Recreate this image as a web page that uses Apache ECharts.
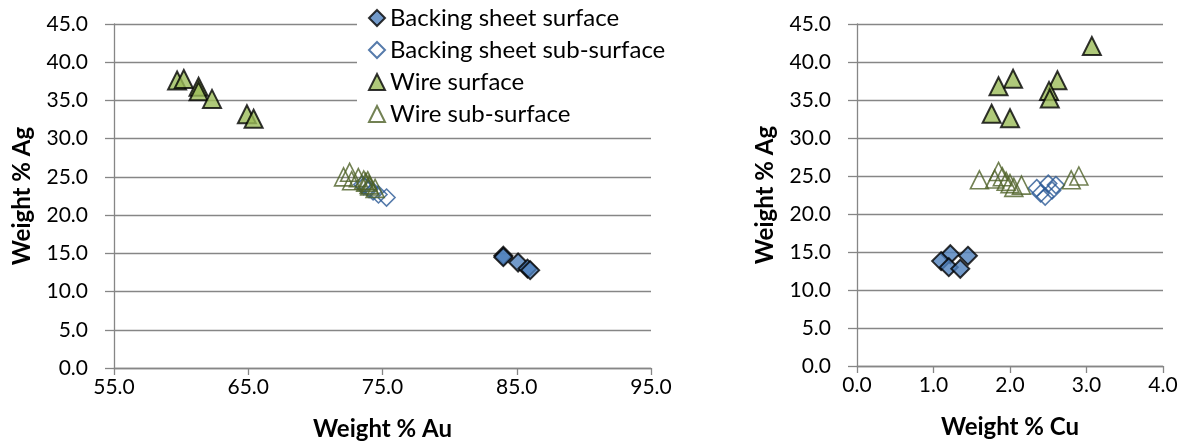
<!DOCTYPE html>
<html><head><meta charset="utf-8">
<script src="https://cdn.jsdelivr.net/npm/echarts@6/dist/echarts.min.js"></script>
<style>html,body{margin:0;padding:0;background:#fff}#c{width:1189px;height:441px}</style>
</head><body><div id="c"></div>
<script>
// Series names
const seriesNames = ['Backing sheet surface', 'Backing sheet sub-surface', 'Wire surface', 'Wire sub-surface'];

// Backing sheet surface
const bsSurfAu = [84.0, 84.0, 85.1, 85.8, 86.0];
const bsSurfAg = [14.7, 14.5, 13.8, 13.0, 12.8];
const bsSurfCu = [1.22, 1.45, 1.10, 1.20, 1.35];

// Backing sheet sub-surface
const bsSubAu = [75.3, 74.7, 74.3, 74.0, 73.6, 73.5];
const bsSubAg = [22.3, 22.7, 23.1, 23.4, 23.8, 24.0];
const bsSubCu = [2.46, 2.40, 2.55, 2.35, 2.60, 2.50];

// Wire surface
const wSurfAu = [54.8, 59.7, 60.2, 61.3, 61.3, 62.3, 64.9, 65.4];
const wSurfAg = [42.1, 37.6, 37.8, 36.8, 36.2, 35.2, 33.2, 32.6];
const wSurfCu = [3.07, 2.62, 2.04, 1.85, 2.51, 2.52, 1.76, 2.00];

// Wire sub-surface
const wSubAu = [73.9, 72.55, 73.2, 73.75, 74.0, 74.05, 72.7, 72.1, 73.6, 74.45];
const wSubAg = [24.5, 25.6, 24.9, 24.3, 24.0, 23.8, 24.5, 25.0, 24.6, 23.5];
const wSubCu = [1.60, 1.85, 1.90, 1.95, 2.00, 2.15, 2.80, 2.90, 1.80, 2.05];

// Axis ticks
const auTicks = {min: 55, max: 95, interval: 10};
const cuTicks = {min: 0, max: 4, interval: 1};
const agTicks = {min: 0, max: 45, interval: 5};

const FONT = 'Lato';
const GRID = '#868686';
const styles = [
  {symbol: 'diamond', size: 18, item: {color: '#4F81BD', borderColor: '#000', borderWidth: 2}},
  {symbol: 'diamond', size: 17, item: {color: 'rgba(255,255,255,0)', borderColor: '#2C5A96', borderWidth: 1.6}},
  {symbol: 'triangle', size: 18, item: {color: '#9BBB59', borderColor: '#000', borderWidth: 2}},
  {symbol: 'triangle', size: 18, item: {color: 'rgba(255,255,255,0)', borderColor: '#4F6228', borderWidth: 1.6}}
];

function pairs(xs, ys) { return xs.map((x, i) => [x, ys[i]]); }

const xVals = [[bsSurfAu, bsSubAu, wSurfAu, wSubAu], [bsSurfCu, bsSubCu, wSurfCu, wSubCu]];
const yVals = [bsSurfAg, bsSubAg, wSurfAg, wSubAg];

function xAxis(idx, t, name) {
  return {
    type: 'value', gridIndex: idx, min: t.min, max: t.max, interval: t.interval,
    name: name, nameLocation: 'middle', nameGap: 49,
    nameTextStyle: {fontFamily: FONT, fontSize: 24, fontWeight: 'bold', color: '#000'},
    axisLine: {show: true, onZero: false, lineStyle: {color: GRID, width: 1.3}},
    axisTick: {show: true, inside: false, length: 7, lineStyle: {color: GRID, width: 1.3}},
    splitLine: {show: false},
    axisLabel: {fontFamily: FONT, fontSize: 21, color: '#000', margin: 9,
      formatter: v => v.toFixed(1)}
  };
}
function yAxis(idx, name) {
  return {
    type: 'value', gridIndex: idx, min: agTicks.min, max: agTicks.max, interval: agTicks.interval,
    name: name, nameLocation: 'middle', nameGap: 80,
    nameTextStyle: {fontFamily: FONT, fontSize: 24, fontWeight: 'bold', color: '#000'},
    axisLine: {show: true, onZero: false, lineStyle: {color: GRID, width: 1.3}},
    axisTick: {show: true, inside: false, length: 9, lineStyle: {color: GRID, width: 1.3}},
    splitLine: {show: true, lineStyle: {color: GRID, width: 1.3}},
    axisLabel: {fontFamily: FONT, fontSize: 21, color: '#000', margin: 26,
      formatter: v => v.toFixed(1)}
  };
}

const series = [];
for (let g = 0; g < 2; g++) {
  for (let s = 0; s < 4; s++) {
    series.push({
      type: 'scatter', name: seriesNames[s], xAxisIndex: g, yAxisIndex: g,
      symbol: styles[s].symbol, symbolSize: styles[s].size,
      itemStyle: styles[s].item, clip: true,
      data: pairs(xVals[g][s], yVals[s]),
      z: s === 1 || s === 3 ? 3 : 2
    });
  }
}

const chart = echarts.init(document.getElementById('c'), null, {renderer: 'canvas'});
chart.setOption({
  animation: false,
  backgroundColor: '#fff',
  grid: [
    {left: 114, top: 24, width: 537, height: 344, outerBoundsMode: 'none', containLabel: false},
    {left: 857, top: 24, width: 306, height: 342, outerBoundsMode: 'none', containLabel: false}
  ],
  xAxis: [xAxis(0, auTicks, 'Weight % Au'), xAxis(1, cuTicks, 'Weight % Cu')],
  yAxis: [yAxis(0, 'Weight % Ag'), yAxis(1, 'Weight % Ag')],
  legend: {
    orient: 'vertical', left: 357, top: 0, itemGap: 6,
    padding: [5, 4, 3, 11],
    itemWidth: 16, itemHeight: 16,
    data: seriesNames,
    textStyle: {fontFamily: FONT, fontSize: 24, color: '#000', lineHeight: 26},
    backgroundColor: '#fff'
  },
  series: series
});
</script></body></html>
